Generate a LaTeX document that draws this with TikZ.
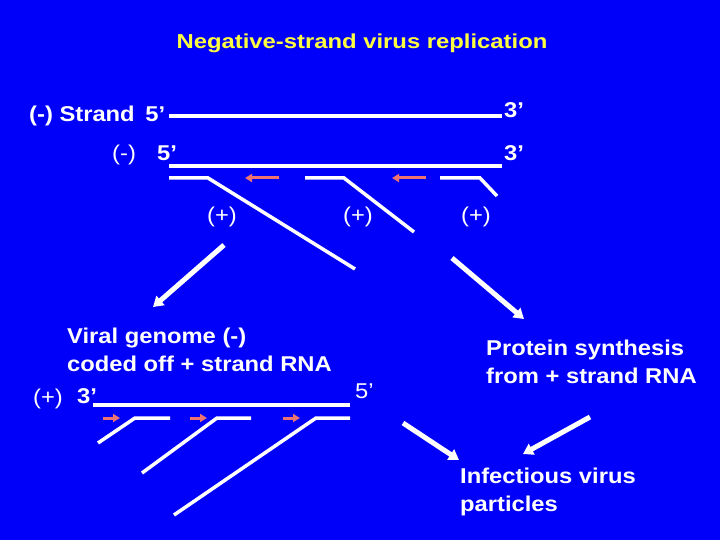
\documentclass[tikz,border=0pt]{standalone}
\usepackage{fontspec}
\setmainfont{Liberation Sans}
\newfontfamily\slidefont{Liberation Sans}[FakeStretch=1.11]
\newfontfamily\titlefont{Liberation Sans}[FakeStretch=1.18]
\usetikzlibrary{arrows.meta,positioning}
\definecolor{slideblue}{rgb}{0.0,0.0,0.98}
\definecolor{titleyellow}{rgb}{1.0,1.0,0.25}
\definecolor{primer}{rgb}{0.93,0.45,0.45}

\begin{document}
\begin{tikzpicture}[x=1pt,y=-1pt,
    lbl/.style={text=white,inner sep=0pt,anchor=base west,align=left,
      font=\slidefont\fontsize{21.4}{28}\selectfont\bfseries},
    plain/.style={lbl,font=\slidefont\fontsize{21.4}{28}\selectfont},
    strand/.style={draw=white,line width=4pt},
    piece/.style={draw=white,line width=3.5pt,line join=miter},
    bigarrow/.style={draw=white,fill=white,line width=5pt,-{Triangle[length=10pt,width=12pt]}},
    growth/.style={draw=primer,line width=3pt,-{Triangle[length=7pt,width=8pt]}}]
  \fill[slideblue] (0,0) rectangle (720,540);
  \useasboundingbox (0,0) rectangle (720,540);

  % title
  \node[inner sep=0pt,anchor=base,text=titleyellow,
    font=\titlefont\fontsize{20.2}{22}\selectfont\bfseries] (title) at (362,49)
    {Negative-strand virus replication};

  % template and genome
  \node[lbl] (neg) at (29,122) {(-) Strand\hspace{4pt} 5’};
  \coordinate (n1a) at (169,116); \coordinate (n1b) at (502,116);
  \draw[strand] (n1a) -- (n1b);
  \node[lbl] (n1end) at (504,118) {3’};

  \node[plain] (neg2) at (112,161) {(-)};
  \node[lbl] (n2five) at (157,161) {5’};
  \coordinate (n2a) at (169,166); \coordinate (n2b) at (502,166);
  \draw[strand] (n2a) -- (n2b);
  \node[lbl] (n2end) at (504,161) {3’};

  % + strand transcripts
  \draw[piece] (169,178) -- (208,178) -- (355,269);
  \draw[piece] (305,178) -- (344,178) -- (414,232);
  \draw[piece] (440,178) -- (480,178) -- (497,196);
  \draw[growth] (279,178) -- (245,178);
  \draw[growth] (426,178) -- (392,178);

  \node[plain,anchor=center] (pos1) at (222,217) {(+)};
  \node[plain,anchor=center] (pos2) at (358,217) {(+)};
  \node[plain,anchor=center] (pos3) at (476,217) {(+)};

  % replication of the genome (base = last line)
  \node[lbl] (genome) at (67,371) {Viral genome (-)\\coded off + strand RNA};
  \node[plain] (pos4) at (33,404) {(+)};
  \node[lbl] (p4three) at (77,403) {3’};
  \coordinate (p4a) at (93,405); \coordinate (p4b) at (350,405);
  \draw[strand] (p4a) -- (p4b);
  \node[plain] (p4five) at (355,398) {5’};

  \draw[piece] (98,443) -- (135,418) -- (170,418);
  \draw[piece] (142,473) -- (217,418) -- (251,418);
  \draw[piece] (174,515) -- (316,418) -- (350,418);
  \foreach \x in {103,190,283}
    \draw[growth] (\x,418) -- (\x+17,418);

  % protein and virus
  \node[lbl] (protein) at (486,383) {Protein synthesis\\from + strand RNA};
  \node[lbl] (virus) at (460,511) {Infectious virus\\particles};

  \coordinate (a1) at (224,245); \coordinate (a2) at (153,307);
  \coordinate (b1) at (452,258); \coordinate (b2) at (524,319);
  \coordinate (c1) at (403,423); \coordinate (c2) at (459,460);
  \coordinate (d1) at (590,417); \coordinate (d2) at (523,454);
  \draw[bigarrow] (a1) -- (a2);
  \draw[bigarrow] (b1) -- (b2);
  \draw[bigarrow] (c1) -- (c2);
  \draw[bigarrow] (d1) -- (d2);
\end{tikzpicture}
\end{document}
